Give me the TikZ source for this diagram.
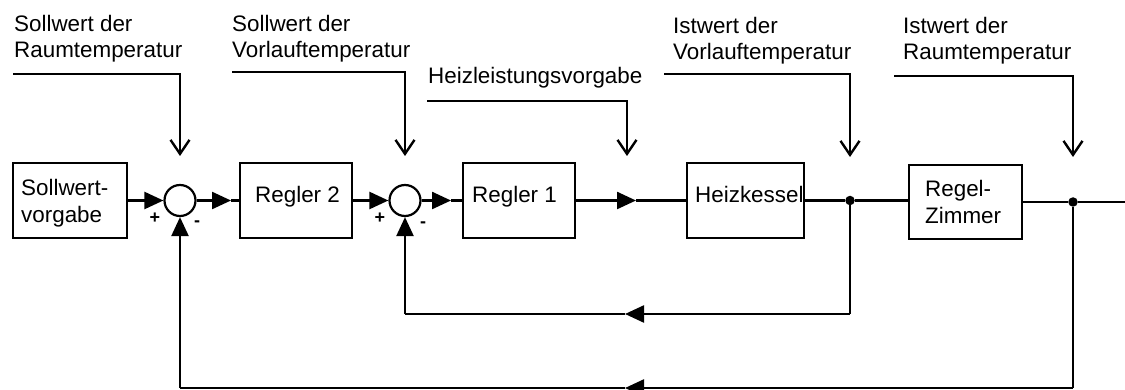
\documentclass[tikz,border=0pt]{standalone}
\usepackage{fontspec}
\setmainfont{Liberation Sans}
\usetikzlibrary{arrows.meta}

\tikzset{
  blockbox/.style={draw, line width=2pt, rectangle, inner sep=0pt},
  sumnode/.style={draw, line width=2.2pt, circle, inner sep=0pt, minimum size=31pt},
  dotnode/.style={circle, fill, inner sep=0pt, minimum size=9.5pt},
  txt/.style={anchor=north west, inner sep=0pt, align=left,
    font=\fontsize{22.4}{26}\selectfont},
  boxtxt/.style={anchor=north west, inner sep=0pt, align=left,
    font=\fontsize{22.4}{27}\selectfont},
  sign/.style={inner sep=0pt, font=\fontsize{18}{18}\selectfont\bfseries},
  wire/.style={line width=2.4pt},
  flow/.style={wire, -{Triangle[length=19pt,width=17pt]}},
  feed/.style={wire, -{Straight Barb[length=14pt,width=19pt,line width=2.4pt]}}
}

\begin{document}
\begin{tikzpicture}[x=1pt,y=-1pt]
  \useasboundingbox (0,0) rectangle (1125,390);
  \clip (0,0) rectangle (1125,390);

  % blocks of the control chain
  \node[blockbox, minimum width=114pt, minimum height=75pt] (sv) at (70,200.5) {};
  \node[sumnode] (s1) at (180,200.5) {};
  \node[blockbox, minimum width=112pt, minimum height=75pt] (r2) at (296,200.5) {};
  \node[sumnode] (s2) at (405,200.5) {};
  \node[blockbox, minimum width=112pt, minimum height=75pt] (r1) at (519,200.5) {};
  \node[blockbox, minimum width=117pt, minimum height=75pt] (hk) at (745.5,200.5) {};
  \node[blockbox, minimum width=113pt, minimum height=74pt] (rz) at (965.5,202) {};

  % texts inside the blocks
  \node[boxtxt] (tsv) at (21,179) {Sollwert-\\vorgabe};
  \node[boxtxt] (tr2) at (255,186) {Regler 2};
  \node[boxtxt] (tr1) at (472,186) {Regler 1};
  \node[boxtxt] (thk) at (695,186) {Heizkessel};
  \node[boxtxt] (trz) at (925,180) {Regel-\\Zimmer};

  % signs at the summing points
  \node[sign] (p1) at (155,218) {+};
  \node[sign] (n1) at (197,224) {-};
  \node[sign] (p2) at (380,218) {+};
  \node[sign] (n2) at (423,225) {-};

  % branch points
  \node[dotnode] (d1) at (850,200.5) {};
  \node[dotnode] (d2) at (1073,202) {};

  % helper points of the main path
  \coordinate (m1) at (231,200.5);
  \coordinate (m2) at (451,200.5);
  \coordinate (m3) at (636,200.5);
  \coordinate (out) at (1125,202);

  % main signal path
  \draw[flow] (sv.east) -- (s1.west);
  \draw[flow] (s1.east) -- (m1);
  \draw[wire] (m1) -- (r2.west);
  \draw[flow] (r2.east) -- (s2.west);
  \draw[flow] (s2.east) -- (m2);
  \draw[wire] (m2) -- (r1.west);
  \draw[flow] (r1.east) -- (m3);
  \draw[wire] (m3) -- (hk.west);
  \draw[wire] (hk.east) -- (d1) -- (rz.west |- d1);
  \draw[wire] (rz.east |- d2) -- (d2) -- (out);

  % inner feedback loop
  \coordinate (i1) at (850,314);
  \coordinate (i2) at (625,314);
  \coordinate (i3) at (405,314);
  \draw[wire] (d1) -- (i1);
  \draw[flow] (i1) -- (i2);
  \draw[wire] (i2) -- (i3);
  \draw[flow] (i3) -- (s2.south);

  % outer feedback loop
  \coordinate (o1) at (1073,388);
  \coordinate (o2) at (625,388);
  \coordinate (o3) at (180,388);
  \draw[wire] (d2) -- (o1);
  \draw[flow] (o1) -- (o2);
  \draw[wire] (o2) -- (o3);
  \draw[flow] (o3) -- (s1.south);

  % external signals
  \node[txt] (l1) at (14,15) {Sollwert der\\Raumtemperatur};
  \node[txt] (l2) at (232,15) {Sollwert der\\Vorlauftemperatur};
  \node[txt] (l3) at (428,67) {Heizleistungsvorgabe};
  \node[txt] (l4) at (673,17) {Istwert der\\Vorlauftemperatur};
  \node[txt] (l5) at (903,17) {Istwert der\\Raumtemperatur};

  \coordinate (a1) at (13,74);   \coordinate (b1) at (180,74);  \coordinate (c1) at (180,156);
  \coordinate (a2) at (232,72);  \coordinate (b2) at (405,72);  \coordinate (c2) at (405,156);
  \coordinate (a3) at (427,101); \coordinate (b3) at (627,101); \coordinate (c3) at (627,156);
  \coordinate (a4) at (664,74);  \coordinate (b4) at (850,74);  \coordinate (c4) at (850,157);
  \coordinate (a5) at (894,76);  \coordinate (b5) at (1073,76); \coordinate (c5) at (1073,157);

  \draw[feed] (a1) -- (b1) -- (c1);
  \draw[feed] (a2) -- (b2) -- (c2);
  \draw[feed] (a3) -- (b3) -- (c3);
  \draw[feed] (a4) -- (b4) -- (c4);
  \draw[feed] (a5) -- (b5) -- (c5);
\end{tikzpicture}
\end{document}
